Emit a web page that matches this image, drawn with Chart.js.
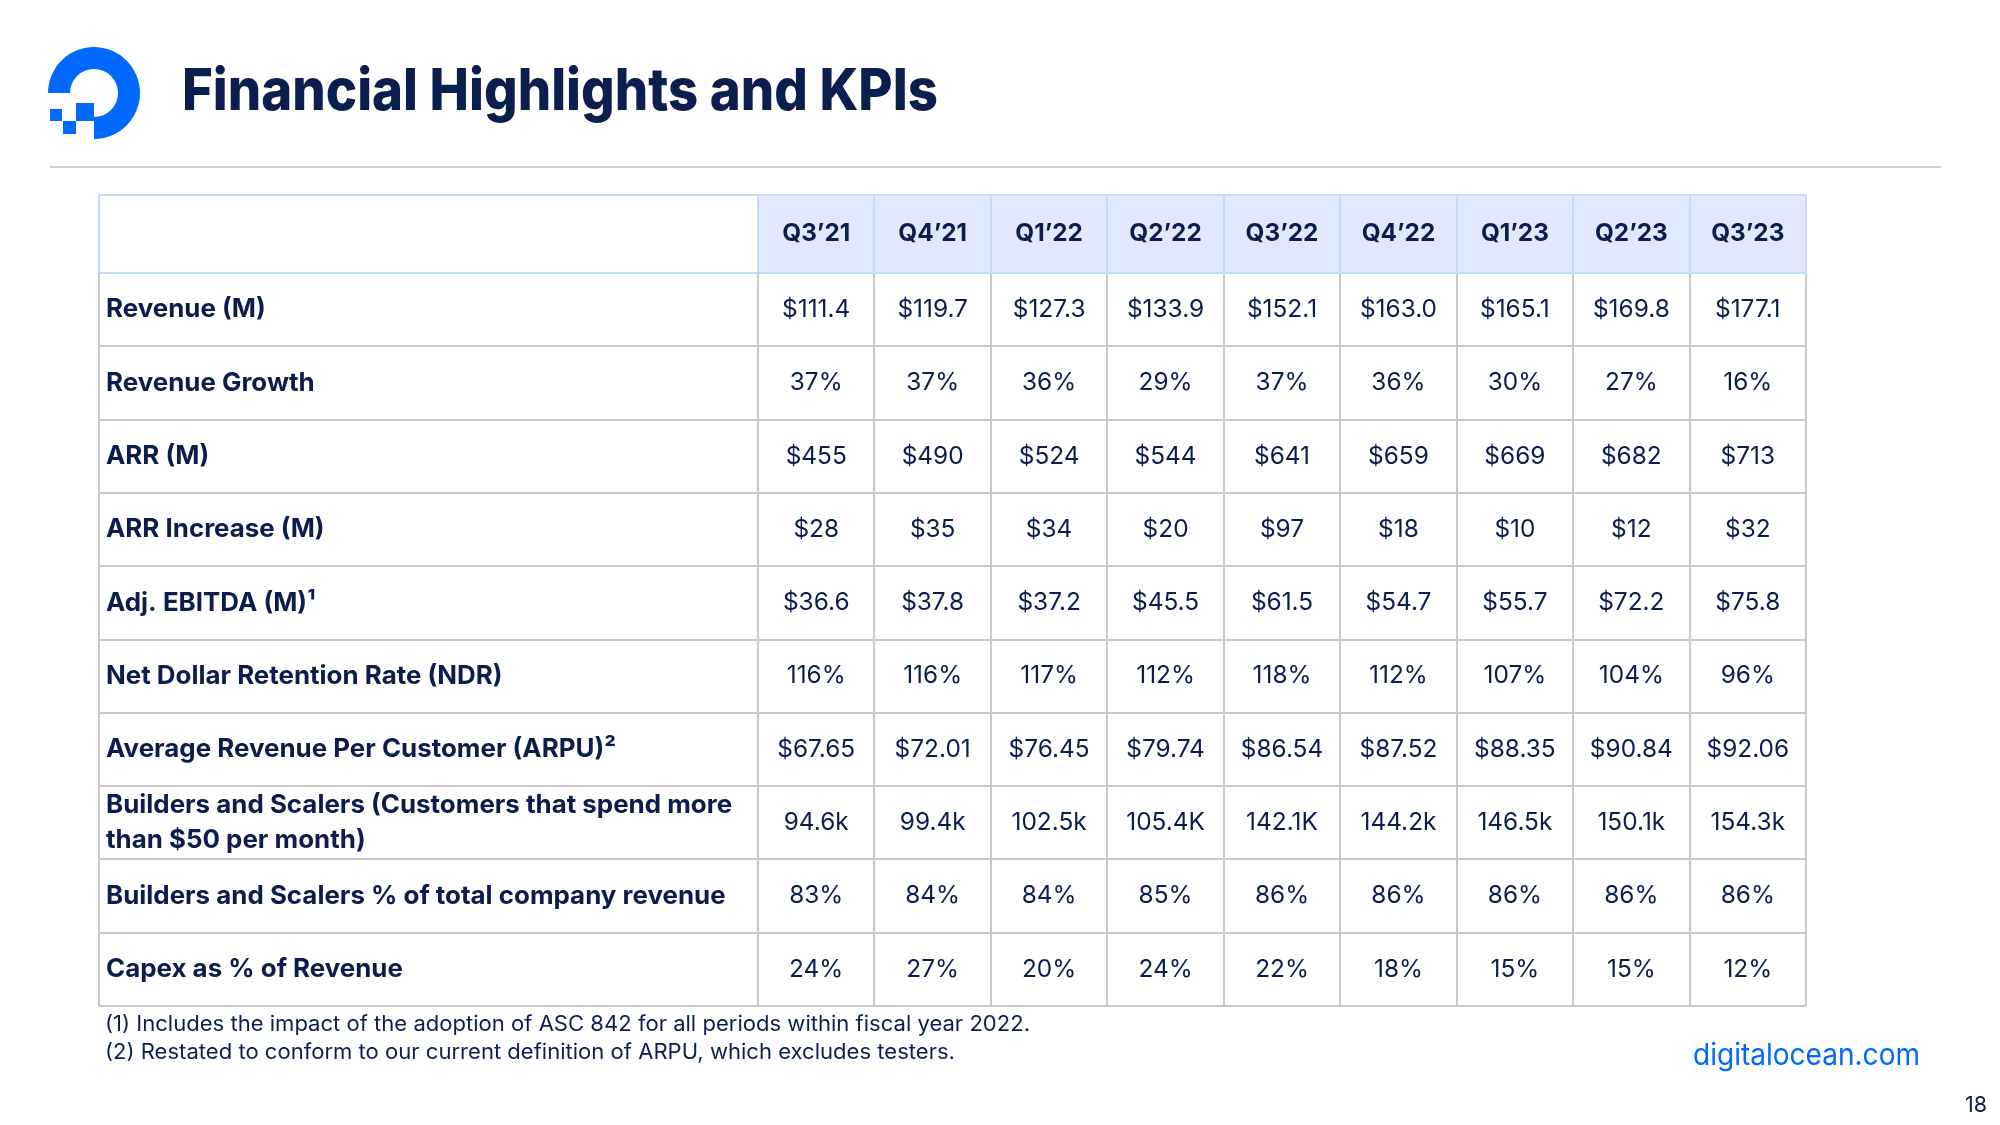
<!DOCTYPE html>
<html><head><meta charset="utf-8">
<script src="https://cdn.jsdelivr.net/npm/chart.js@4.4.1/dist/chart.umd.min.js"></script>
<style>
html,body{margin:0;padding:0;background:#fff;width:2000px;height:1125px;overflow:hidden;}
#c{position:absolute;left:0;top:0;}
.t{position:absolute;white-space:nowrap;transform-origin:0 0;font-family:Inter,'Noto Sans',sans-serif;color:#0b1f4f;line-height:1;}
#rule{position:absolute;left:50px;top:166px;width:1891px;height:2px;background:#d0d0d0;}
#logo{position:absolute;left:0;top:0;}
</style></head><body>
<svg id="logo" width="160" height="160" viewBox="0 0 160 160">
  <path d="M 48 93 A 46 46 0 1 1 94 139 L 94 117 A 24 24 0 1 0 70 93 Z" fill="#0069ff"/>
  <rect x="76" y="103" width="18" height="18" fill="#0069ff"/>
  <rect x="63" y="121" width="13" height="13" fill="#0069ff"/>
  <rect x="50" y="109" width="12" height="12" fill="#0069ff"/>
</svg>
<div id="title" class="t" style="font-weight:800">Financial Highlights and KPIs</div>
<div id="rule"></div>
<canvas id="c" width="2000" height="1125"></canvas>
<div id="fn1" class="t">(1) Includes the impact of the adoption of ASC 842 for all periods within fiscal year 2022.</div>
<div id="fn2" class="t">(2) Restated to conform to our current definition of ARPU, which excludes testers.</div>
<div id="url" class="t" style="color:#0069ff">digitalocean.com</div>
<div id="page" class="t">18</div>
<script>
// ---------- data ----------
const quarters = ['Q3’21','Q4’21','Q1’22','Q2’22','Q3’22','Q4’22','Q1’23','Q2’23','Q3’23'];
const rowLabels = [
  'Revenue (M)',
  'Revenue Growth',
  'ARR (M)',
  'ARR Increase (M)',
  'Adj. EBITDA (M)¹',
  'Net Dollar Retention Rate (NDR)',
  'Average Revenue Per Customer (ARPU)²',
  'Builders and Scalers (Customers that spend more than $50 per month)',
  'Builders and Scalers % of total company revenue',
  'Capex as % of Revenue'
];
const revenue = [111.4, 119.7, 127.3, 133.9, 152.1, 163.0, 165.1, 169.8, 177.1];
const revenueGrowth = [37, 37, 36, 29, 37, 36, 30, 27, 16];
const arr = [455, 490, 524, 544, 641, 659, 669, 682, 713];
const arrIncrease = [28, 35, 34, 20, 97, 18, 10, 12, 32];
const adjEbitda = [36.6, 37.8, 37.2, 45.5, 61.5, 54.7, 55.7, 72.2, 75.8];
const ndr = [116, 116, 117, 112, 118, 112, 107, 104, 96];
const arpu = [67.65, 72.01, 76.45, 79.74, 86.54, 87.52, 88.35, 90.84, 92.06];
const buildersScalers = ['94.6k', '99.4k', '102.5k', '105.4K', '142.1K', '144.2k', '146.5k', '150.1k', '154.3k'];
const bsRevenueShare = [83, 84, 84, 85, 86, 86, 86, 86, 86];
const capexPct = [24, 27, 20, 24, 22, 18, 15, 15, 12];

const money1 = v => '$' + v.toFixed(1);
const money0 = v => '$' + v.toFixed(0);
const money2 = v => '$' + v.toFixed(2);
const pct = v => v + '%';
const txt = v => v;
const rowValues = [revenue, revenueGrowth, arr, arrIncrease, adjEbitda, ndr, arpu, buildersScalers, bsRevenueShare, capexPct];
const rowFormats = [money1, pct, money0, money0, money1, pct, money2, txt, pct, pct];

// ---------- style ----------
const NAVY = '#0a1d4d', GRID = '#c8c8c8', HEAD_LINE = '#c6d9f7', HEAD_FILL = '#dfe8fc';
const FAM = "Inter, 'Noto Sans', sans-serif";
const mctx = document.createElement('canvas').getContext('2d');
function fitSize(text, weight, target) {
  mctx.font = weight + ' 100px ' + FAM;
  return 100 * target / mctx.measureText(text).width;
}
const labelSize = Math.min(28, fitSize('Builders and Scalers % of total company revenue', 700, 620));
const valueSize = Math.min(25, fitSize('$67.65', 400, 78));
const headSize = Math.min(25, fitSize('Q3’21', 700, 68));

function placeText(id, left, baseline, size, targetWidth) {
  const el = document.getElementById(id);
  el.style.fontSize = size + 'px';
  mctx.font = getComputedStyle(el).fontWeight + ' ' + size + 'px ' + FAM;
  const m = mctx.measureText('Hg');
  const asc = m.fontBoundingBoxAscent, desc = m.fontBoundingBoxDescent;
  const off = (size - (asc + desc)) / 2 + asc;
  el.style.left = left + 'px';
  el.style.top = (baseline - off) + 'px';
  if (targetWidth) {
    const w = el.getBoundingClientRect().width;
    el.style.transform = 'scaleX(' + (targetWidth / w) + ')';
  }
}
placeText('title', 182, 110, 58, 756);
placeText('fn1', 105, 1031, 21, 925);
const fn1scale = parseFloat(document.getElementById('fn1').style.transform.replace(/[^0-9.]/g, ''));
placeText('fn2', 105, 1059, 21);
document.getElementById('fn2').style.transform = 'scaleX(' + fn1scale + ')';
placeText('url', 1693, 1065, 30, 227);
placeText('page', 1965, 1112, 21, 22);

// ---------- chart ----------
const HEADER_H = 79, LABEL_COL_W = 659, LABEL_INDENT = 7;
const datasets = rowLabels.map((lab, r) => ({
  label: lab,
  data: quarters.map((q, i) => ({ x: q, y: lab, v: rowValues[r][i] })),
  pointRadius: 0, pointHoverRadius: 0, showLine: false
}));

const tablePlugin = {
  id: 'tablePlugin',
  beforeDraw(chart) {
    const x = chart.scales.x, ctx = chart.ctx;
    ctx.save();
    ctx.fillStyle = HEAD_FILL;
    ctx.fillRect(x.left, x.top, x.right - x.left, x.bottom - x.top);
    ctx.restore();
  },
  afterDatasetsDraw(chart) {
    const ctx = chart.ctx;
    ctx.save();
    ctx.font = '400 ' + valueSize + 'px ' + FAM;
    ctx.fillStyle = NAVY;
    ctx.textAlign = 'center';
    ctx.textBaseline = 'middle';
    chart.data.datasets.forEach((ds, di) => {
      const meta = chart.getDatasetMeta(di);
      meta.data.forEach((el, i) => {
        ctx.fillText(rowFormats[di](ds.data[i].v), el.x, el.y);
      });
    });
    ctx.restore();
  },
  afterDraw(chart) {
    const x = chart.scales.x, y = chart.scales.y, ctx = chart.ctx;
    const leftX = y.right - LABEL_COL_W;
    ctx.save();
    ctx.lineWidth = 2;
    ctx.strokeStyle = HEAD_LINE;
    ctx.beginPath();
    ctx.moveTo(leftX - 1, x.top + 1); ctx.lineTo(x.right + 1, x.top + 1);
    ctx.moveTo(leftX, x.top); ctx.lineTo(leftX, x.bottom);
    ctx.stroke();
    ctx.strokeStyle = GRID;
    ctx.beginPath();
    ctx.moveTo(leftX, x.bottom); ctx.lineTo(leftX, y.bottom + 1);
    ctx.stroke();
    ctx.restore();
  }
};

new Chart(document.getElementById('c'), {
  type: 'line',
  data: { labels: quarters, datasets },
  options: {
    responsive: false, animation: false, devicePixelRatio: 1, events: [],
    layout: { padding: { left: 99 + LABEL_INDENT, top: 194, right: 194, bottom: 119 } },
    plugins: { legend: { display: false }, tooltip: { enabled: false } },
    scales: {
      x: {
        type: 'category', position: 'top', labels: quarters, offset: true,
        grid: { offset: true, color: GRID, lineWidth: 2, drawTicks: true, tickLength: HEADER_H, tickColor: HEAD_LINE, tickWidth: 2 },
        border: { display: true, color: HEAD_LINE, width: 2 },
        ticks: { color: NAVY, font: { family: FAM, weight: '700', size: headSize }, padding: -(HEADER_H / 2 + headSize * 1.2 / 2), maxRotation: 0, autoSkip: false },
        afterFit(s) { s.height = HEADER_H; }
      },
      y: {
        type: 'category', labels: rowLabels, offset: true,
        grid: {
          offset: true, lineWidth: 2, tickWidth: 2, drawTicks: true, tickLength: LABEL_COL_W,
          color: c => c.index === 0 ? HEAD_LINE : GRID,
          tickColor: c => c.index === 0 ? HEAD_LINE : GRID
        },
        border: { display: true, color: GRID, width: 2 },
        ticks: {
          crossAlign: 'far', color: NAVY, autoSkip: false,
          font: { family: FAM, weight: '700', size: labelSize, lineHeight: 1.36 },
          callback(v) {
            const l = this.getLabelForValue(v);
            const k = l.indexOf(' than ');
            return k > 0 ? [l.slice(0, k), l.slice(k + 1)] : l;
          }
        },
        afterFit(s) { s.width = LABEL_COL_W - LABEL_INDENT; }
      }
    }
  },
  plugins: [tablePlugin]
});
</script>
</body></html>
